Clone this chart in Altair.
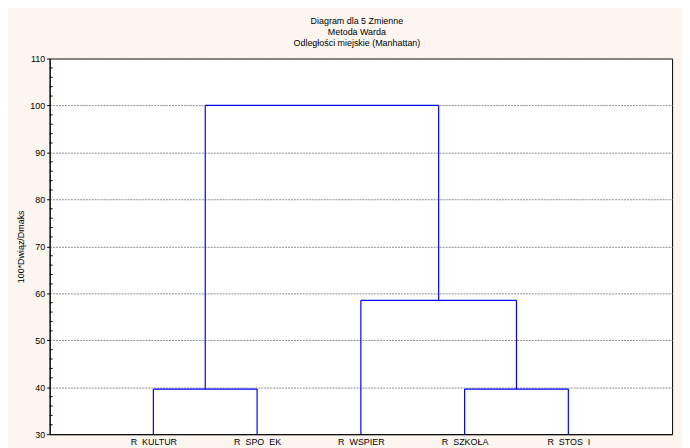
import json
import altair as alt
import pandas as pd

# ---- data ----
leaves = ["R\u00a0\u00a0KULTUR", "R\u00a0\u00a0SPO\u00a0\u00a0EK", "R\u00a0\u00a0WSPIER",
          "R\u00a0\u00a0SZKOŁA", "R\u00a0\u00a0STOS\u00a0\u00a0I"]
merge_left = [0, 3, 2, 5]       # cluster ids (0..4 leaves, 5.. new clusters)
merge_right = [1, 4, 6, 7]
merge_height = [39.6, 39.6, 58.5, 100.0]
y_ticks = [30, 40, 50, 60, 70, 80, 90, 100, 110]
minor_ticks = [v for v in range(30, 111, 2) if v % 10 != 0]
title_lines = ["Diagram dla 5 Zmienne", "Metoda Warda", "Odległości miejskie (Manhattan)"]
y_title = "100*Dwiąz/Dmaks"

# ---- build dendrogram segments ----
base = 30.0
pos = {i: i + 1 for i in range(len(leaves))}
top = {i: base for i in range(len(leaves))}
segs = []
for k, (a, b, h) in enumerate(zip(merge_left, merge_right, merge_height)):
    new_id = len(leaves) + k
    for c in (a, b):
        segs.append({"x": pos[c], "x2": pos[c], "y": top[c], "y2": h})
    segs.append({"x": pos[a], "x2": pos[b], "y": h, "y2": h})
    pos[new_id] = (pos[a] + pos[b]) / 2
    top[new_id] = h
df = pd.DataFrame(segs)

label_expr = "(" + json.dumps([""] + leaves + [""]) + ")[datum.value]"

FONT = "Liberation Sans"
xs = alt.Scale(domain=[0, len(leaves) + 1], nice=False, zero=False)
ys = alt.Scale(domain=[30, 110], nice=False, zero=False)

lines = alt.Chart(df).mark_rule(color="#0000ff", strokeWidth=1.2).encode(
    x=alt.X("x:Q", scale=xs, axis=alt.Axis(
        values=list(range(1, len(leaves) + 1)), labelExpr=label_expr, title=None,
        ticks=False, grid=False, domainColor="#000000", labelFont=FONT,
        labelFontSize=9, labelColor="#000000", labelPadding=3, labelFlush=False)),
    x2="x2:Q",
    y=alt.Y("y:Q", scale=ys, axis=alt.Axis(
        values=y_ticks, title=y_title, titleFont=FONT, titleFontSize=9,
        titleFontWeight="normal", titleColor="#000000", titlePadding=4,
        labelFont=FONT, labelFontSize=9, labelColor="#000000", labelPadding=2,
        tickSize=3, tickColor="#000000", domainColor="#000000",
        grid=True, gridColor="#909090", gridDash=[2, 1], gridWidth=1)),
    y2="y2:Q",
)

minor_df = pd.DataFrame({"v": minor_ticks})
minor = alt.Chart(minor_df).mark_rule(color="#000000", strokeWidth=1).encode(
    x=alt.value(0), x2=alt.value(3),
    y=alt.Y("v:Q", scale=ys),
)

chart = (
    alt.layer(lines, minor)
    .properties(
        width=628, height=379,
        title=alt.TitleParams(title_lines, font=FONT, fontSize=9,
                              fontWeight="normal", color="#000000",
                              lineHeight=11, offset=7, anchor="middle", dx=-4),
        autosize=alt.AutoSizeParams(type="none"),
        padding={"left": 42, "top": 49, "right": 10, "bottom": 12},
    )
    .configure(background="#fdf6f0")
    .configure_view(stroke="#000000", strokeWidth=1, fill="#ffffff")
)

chart.save("out.html", embed_options={"renderer": "svg", "actions": False})
